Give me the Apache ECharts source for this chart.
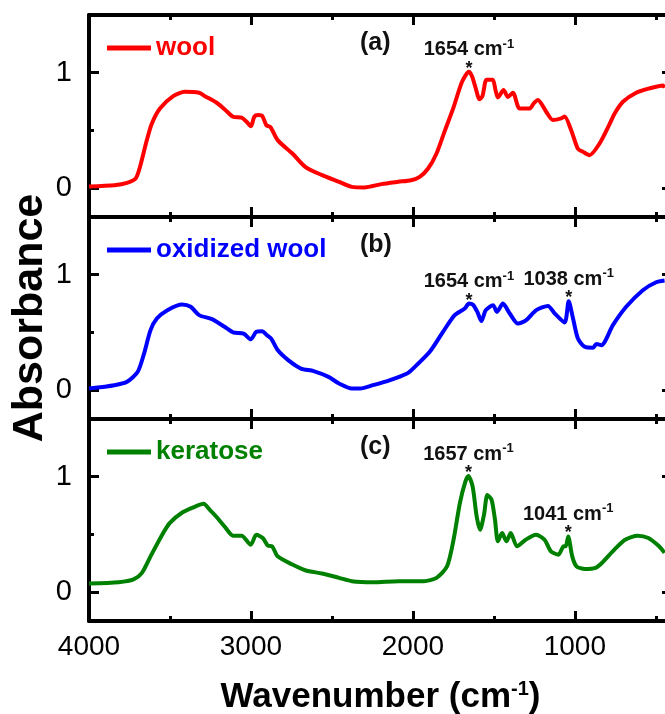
<!DOCTYPE html>
<html>
<head>
<meta charset="utf-8">
<script src="https://cdn.jsdelivr.net/npm/echarts@6/dist/echarts.min.js"></script>
<style>
  html, body { margin: 0; padding: 0; background: #fff; }
  #chart { width: 665px; height: 714px; }
</style>
</head>
<body>
<div id="chart"></div>
<script>
// wavenumber (cm-1) / absorbance
const wnWool = [4000, 3843, 3765, 3712, 3685, 3644, 3613, 3562, 3480, 3408, 3320, 3284, 3212, 3160, 3110, 3058, 3027, 3000, 2979, 2955, 2930, 2905, 2880, 2835, 2744, 2665, 2561, 2456, 2377, 2299, 2194, 2090, 2011, 1958, 1906, 1854, 1802, 1749, 1697, 1654, 1635, 1615, 1588, 1570, 1545, 1507, 1490, 1475, 1440, 1413, 1382, 1341, 1279, 1254, 1228, 1176, 1135, 1084, 1063, 1022, 981, 950, 909, 847, 785, 754, 703, 621, 539, 457, 446]
const absWool = [0.015, 0.026, 0.046, 0.084, 0.185, 0.41, 0.556, 0.69, 0.797, 0.835, 0.826, 0.797, 0.74, 0.68, 0.618, 0.61, 0.575, 0.537, 0.62, 0.633, 0.625, 0.545, 0.53, 0.416, 0.30, 0.185, 0.113, 0.055, 0.011, 0.006, 0.035, 0.055, 0.069, 0.098, 0.17, 0.30, 0.50, 0.70, 0.92, 1.008, 0.97, 0.88, 0.77, 0.80, 0.94, 0.94, 0.85, 0.786, 0.85, 0.79, 0.826, 0.69, 0.69, 0.734, 0.764, 0.66, 0.59, 0.604, 0.62, 0.50, 0.34, 0.315, 0.286, 0.387, 0.556, 0.647, 0.748, 0.826, 0.864, 0.89, 0.87]

const wnOxi = [4000, 3843, 3765, 3699, 3660, 3620, 3581, 3516, 3424, 3372, 3320, 3241, 3163, 3110, 3045, 3001, 2967, 2932, 2901, 2875, 2835, 2770, 2691, 2613, 2521, 2456, 2377, 2325, 2246, 2141, 2036, 1999, 1896, 1814, 1742, 1680, 1654, 1629, 1602, 1577, 1550, 1505, 1481, 1444, 1402, 1351, 1300, 1238, 1166, 1124, 1063, 1038, 1011, 981, 939, 888, 867, 836, 765, 683, 580, 498, 446]
const absOxi = [0.014, 0.043, 0.072, 0.159, 0.317, 0.52, 0.62, 0.693, 0.742, 0.722, 0.65, 0.615, 0.549, 0.50, 0.49, 0.44, 0.505, 0.51, 0.476, 0.447, 0.347, 0.26, 0.187, 0.165, 0.115, 0.057, 0.014, 0.014, 0.043, 0.087, 0.144, 0.187, 0.332, 0.505, 0.65, 0.707, 0.75, 0.74, 0.678, 0.598, 0.693, 0.736, 0.678, 0.75, 0.664, 0.577, 0.607, 0.693, 0.73, 0.664, 0.586, 0.77, 0.62, 0.447, 0.375, 0.367, 0.40, 0.39, 0.563, 0.722, 0.866, 0.935, 0.95]

const wnKer = [4000, 3817, 3725, 3673, 3620, 3554, 3502, 3424, 3345, 3293, 3254, 3215, 3163, 3110, 3058, 3001, 2967, 2927, 2896, 2869, 2835, 2744, 2665, 2561, 2456, 2377, 2246, 2090, 1932, 1854, 1789, 1749, 1710, 1676, 1657, 1631, 1606, 1585, 1561, 1540, 1514, 1493, 1475, 1449, 1422, 1396, 1357, 1304, 1239, 1187, 1148, 1101, 1069, 1056, 1041, 1016, 990, 938, 873, 833, 756, 690, 611, 546, 480, 446]
const absKer = [0.075, 0.086, 0.11, 0.167, 0.31, 0.483, 0.598, 0.69, 0.741, 0.765, 0.713, 0.655, 0.569, 0.489, 0.489, 0.411, 0.497, 0.469, 0.403, 0.397, 0.31, 0.239, 0.19, 0.161, 0.124, 0.095, 0.086, 0.095, 0.095, 0.124, 0.224, 0.454, 0.77, 0.957, 1.006, 0.914, 0.655, 0.54, 0.67, 0.842, 0.80, 0.627, 0.44, 0.512, 0.44, 0.512, 0.397, 0.454, 0.497, 0.454, 0.354, 0.325, 0.397, 0.397, 0.483, 0.31, 0.224, 0.20, 0.21, 0.253, 0.368, 0.454, 0.489, 0.469, 0.397, 0.34]

// marked peaks: [wavenumber, absorbance at the asterisk]
const peaksWool = [[1654, 1.008]]
const peaksOxi = [[1654, 0.75], [1038, 0.77]]
const peaksKer = [[1657, 1.006], [1041, 0.483]]

const xMajor = [1000, 2000, 3000, 4000]
const xMinor = [500, 1500, 2500, 3500]
const yMajor = [0, 1]
const yMinor = [0.5]

const FONT = "'Liberation Sans', Arial, sans-serif"

const panels = [
  { name: 'wool', color: '#ff0000', tag: '(a)', wn: wnWool, abs: absWool, peaks: peaksWool },
  { name: 'oxidized wool', color: '#0000ff', tag: '(b)', wn: wnOxi, abs: absOxi, peaks: peaksOxi },
  { name: 'keratose', color: '#008000', tag: '(c)', wn: wnKer, abs: absKer, peaks: peaksKer }
]

const gridTop = [15, 217, 419]
const gridH = 202

const grids = [], xAxes = [], yAxes = [], series = [], legends = [], titles = []

const xBase = (i, pos, ticks, len, labels) => ({
  type: 'value', gridIndex: i, position: pos, min: 400, max: 4000, inverse: true,
  axisLine: { show: len > 6, onZero: false, lineStyle: { color: '#000', width: 4 } },
  axisTick: { show: true, inside: true, length: len, customValues: ticks, lineStyle: { color: '#000', width: 3 } },
  axisLabel: labels
    ? { show: true, customValues: ticks, fontSize: 28, color: '#000', fontFamily: FONT, margin: 12, formatter: v => String(v) }
    : { show: false },
  splitLine: { show: false }
})

const yBase = (i, pos, ticks, len, labels) => ({
  type: 'value', gridIndex: i, position: pos, min: -0.25, max: 1.5,
  axisLine: { show: len > 6, onZero: false, lineStyle: { color: '#000', width: 4 } },
  axisTick: { show: true, inside: true, length: len, customValues: ticks, lineStyle: { color: '#000', width: 3 } },
  axisLabel: labels
    ? { show: true, customValues: ticks, fontSize: 29, color: '#000', fontFamily: FONT, margin: 17, formatter: v => String(v) }
    : { show: false },
  splitLine: { show: false }
})

panels.forEach((p, i) => {
  grids.push({ left: 89, top: gridTop[i], width: 583, height: gridH, outerBoundsMode: 'none' })

  const xb = xBase(i, 'bottom', xMajor, 10, i === 2)
  if (i === 2) {
    xb.name = '{t|Wavenumber (cm}{s|-1}{t|)}'
    xb.nameLocation = 'middle'
    xb.nameGap = 58
    xb.nameTextStyle = {
      fontFamily: FONT,
      rich: {
        t: { fontSize: 35, fontWeight: 'bold', color: '#000', fontFamily: FONT, lineHeight: 36 },
        s: { fontSize: 20, fontWeight: 'bold', color: '#000', fontFamily: FONT, verticalAlign: 'top', lineHeight: 36 }
      }
    }
  }
  xAxes.push(xb, xBase(i, 'bottom', xMinor, 5, false), xBase(i, 'top', xMajor, 10, false), xBase(i, 'top', xMinor, 5, false))

  const yl = yBase(i, 'left', yMajor, 10, true)
  if (i === 1) {
    yl.name = 'Absorbance'
    yl.nameLocation = 'middle'
    yl.nameGap = 37
    yl.nameMoveOverlap = false
    yl.nameTextStyle = { fontSize: 43, fontWeight: 'bold', color: '#000', fontFamily: FONT }
  }
  yAxes.push(yl, yBase(i, 'left', yMinor, 5, false), yBase(i, 'right', yMajor, 10, false), yBase(i, 'right', yMinor, 5, false))

  series.push({
    name: p.name, type: 'line', xAxisIndex: i * 4, yAxisIndex: i * 4,
    data: p.wn.map((w, k) => [w, p.abs[k]]),
    showSymbol: false, symbol: 'none', smooth: 0.25,
    lineStyle: { color: p.color, width: 4 },
    itemStyle: { color: p.color },
    markPoint: {
      symbol: 'circle', symbolSize: 2, silent: true,
      itemStyle: { color: 'rgba(0,0,0,0)' },
      label: {
        show: true, position: 'top', distance: 0, offset: [0, 5],
        formatter: (d) => '{t|' + d.name + ' cm}{s|-1}\n{a|*}',
        rich: {
          t: { fontSize: 20, fontWeight: 'bold', color: '#111', fontFamily: FONT, lineHeight: 24 },
          s: { fontSize: 13, fontWeight: 'bold', color: '#111', fontFamily: FONT, verticalAlign: 'top', lineHeight: 24 },
          a: { fontSize: 18, fontWeight: 'bold', color: '#111', fontFamily: FONT, lineHeight: 14, align: 'center' }
        }
      },
      data: p.peaks.map(pk => ({ name: String(pk[0]), coord: [pk[0], pk[1]] }))
    }
  })

  legends.push({
    data: [p.name], left: 102, top: gridTop[i] + 15, icon: 'rect', itemWidth: 44, itemHeight: 5,
    selectedMode: false,
    textStyle: { color: p.color, fontSize: 26, fontWeight: 'bold', fontFamily: FONT }
  })

  titles.push({
    text: p.tag, left: 355, top: gridTop[i] + 11,
    textStyle: { fontSize: 25, fontWeight: 'bold', color: '#111', fontFamily: FONT }
  })
})

const chart = echarts.init(document.getElementById('chart'))
chart.setOption({
  animation: false,
  backgroundColor: '#fff',
  title: titles,
  legend: legends,
  grid: grids,
  xAxis: xAxes,
  yAxis: yAxes,
  series: series
})
</script>
</body>
</html>
